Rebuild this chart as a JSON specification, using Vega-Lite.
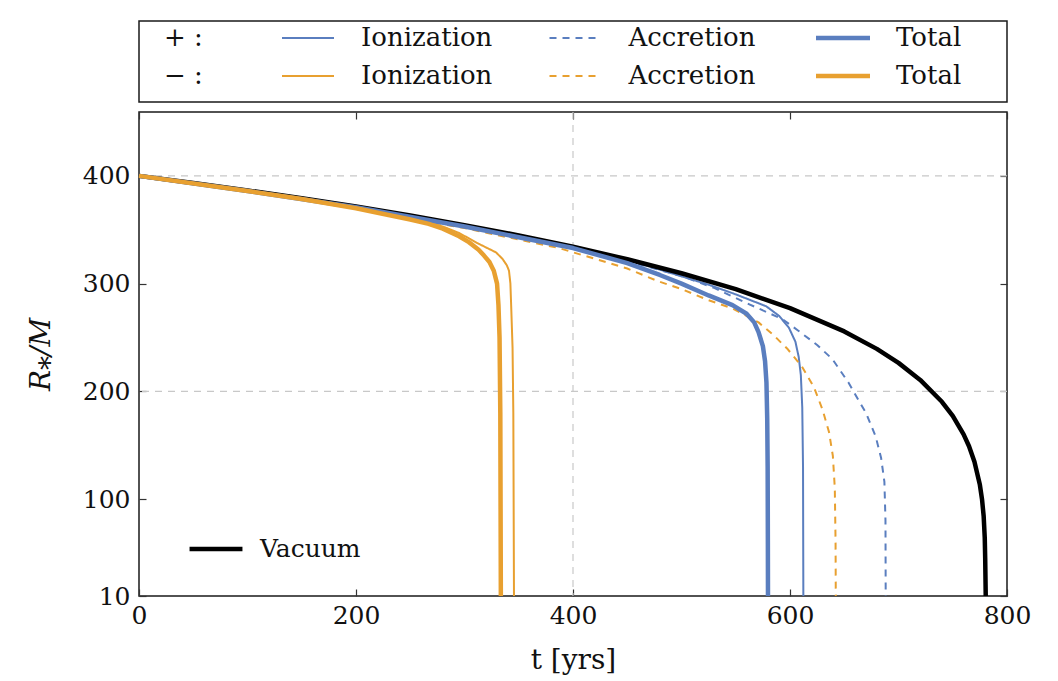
{
  "$schema": "https://vega.github.io/schema/vega-lite/v6.json",
  "autosize": {"type": "pad"},
  "padding": {"left": 26, "top": 20, "right": 45, "bottom": 5},
  "background": "white",
  "spacing": 7,
  "config": {
    "font": "DejaVu Serif",
    "view": {"stroke": "#1a1a1a", "strokeWidth": 1.5},
    "axis": {
      "labelFont": "DejaVu Serif", "labelFontSize": 25, "labelColor": "#111",
      "titleFont": "DejaVu Serif", "titleFontSize": 28, "titleColor": "#111", "titleFontWeight": "normal",
      "domain": false, "tickColor": "#333", "tickSize": -7, "tickWidth": 1.2, "grid": false,
      "labelFlush": false, "labelOverlap": false, "labelBound": false
    }
  },
  "datasets": {
    "legendItems": [
      {"sign": "+", "kind": "Ionization"}, {"sign": "+", "kind": "Accretion"}, {"sign": "+", "kind": "Total"},
      {"sign": "−", "kind": "Ionization"}, {"sign": "−", "kind": "Accretion"}, {"sign": "−", "kind": "Total"}
    ],
    "signs": [
      {"sign": "+", "kind": "Ionization", "label": "+ :"},
      {"sign": "−", "kind": "Ionization", "label": "− :"}
    ],
    "curves": [
      {"sign": "Vacuum", "kind": "Vacuum", "t": 0, "R": 400},
      {"sign": "Vacuum", "kind": "Vacuum", "t": 50, "R": 393.4},
      {"sign": "Vacuum", "kind": "Vacuum", "t": 100, "R": 386.5},
      {"sign": "Vacuum", "kind": "Vacuum", "t": 150, "R": 379.2},
      {"sign": "Vacuum", "kind": "Vacuum", "t": 200, "R": 371.5},
      {"sign": "Vacuum", "kind": "Vacuum", "t": 250, "R": 363.2},
      {"sign": "Vacuum", "kind": "Vacuum", "t": 300, "R": 354.3},
      {"sign": "Vacuum", "kind": "Vacuum", "t": 350, "R": 344.7},
      {"sign": "Vacuum", "kind": "Vacuum", "t": 400, "R": 334.2},
      {"sign": "Vacuum", "kind": "Vacuum", "t": 450, "R": 322.6},
      {"sign": "Vacuum", "kind": "Vacuum", "t": 500, "R": 309.6},
      {"sign": "Vacuum", "kind": "Vacuum", "t": 550, "R": 294.8},
      {"sign": "Vacuum", "kind": "Vacuum", "t": 600, "R": 277.2},
      {"sign": "Vacuum", "kind": "Vacuum", "t": 650, "R": 255.6},
      {"sign": "Vacuum", "kind": "Vacuum", "t": 680, "R": 239.4},
      {"sign": "Vacuum", "kind": "Vacuum", "t": 700, "R": 226.4},
      {"sign": "Vacuum", "kind": "Vacuum", "t": 720, "R": 210.6},
      {"sign": "Vacuum", "kind": "Vacuum", "t": 740, "R": 190.3},
      {"sign": "Vacuum", "kind": "Vacuum", "t": 750, "R": 177.2},
      {"sign": "Vacuum", "kind": "Vacuum", "t": 760, "R": 160.1},
      {"sign": "Vacuum", "kind": "Vacuum", "t": 765, "R": 149},
      {"sign": "Vacuum", "kind": "Vacuum", "t": 770, "R": 134.6},
      {"sign": "Vacuum", "kind": "Vacuum", "t": 775, "R": 113.2},
      {"sign": "Vacuum", "kind": "Vacuum", "t": 777, "R": 99.6},
      {"sign": "Vacuum", "kind": "Vacuum", "t": 778.5, "R": 84},
      {"sign": "Vacuum", "kind": "Vacuum", "t": 779.5, "R": 64},
      {"sign": "Vacuum", "kind": "Vacuum", "t": 779.9, "R": 45},
      {"sign": "Vacuum", "kind": "Vacuum", "t": 780.4, "R": 10},

      {"sign": "+", "kind": "Accretion", "t": 0, "R": 400},
      {"sign": "+", "kind": "Accretion", "t": 100, "R": 386},
      {"sign": "+", "kind": "Accretion", "t": 200, "R": 370.8},
      {"sign": "+", "kind": "Accretion", "t": 300, "R": 353},
      {"sign": "+", "kind": "Accretion", "t": 400, "R": 333},
      {"sign": "+", "kind": "Accretion", "t": 450, "R": 321},
      {"sign": "+", "kind": "Accretion", "t": 500, "R": 307},
      {"sign": "+", "kind": "Accretion", "t": 530, "R": 296},
      {"sign": "+", "kind": "Accretion", "t": 562, "R": 281},
      {"sign": "+", "kind": "Accretion", "t": 593, "R": 267},
      {"sign": "+", "kind": "Accretion", "t": 608, "R": 256},
      {"sign": "+", "kind": "Accretion", "t": 625, "R": 243},
      {"sign": "+", "kind": "Accretion", "t": 639, "R": 230},
      {"sign": "+", "kind": "Accretion", "t": 654, "R": 208},
      {"sign": "+", "kind": "Accretion", "t": 663, "R": 192},
      {"sign": "+", "kind": "Accretion", "t": 670, "R": 180},
      {"sign": "+", "kind": "Accretion", "t": 679, "R": 158},
      {"sign": "+", "kind": "Accretion", "t": 684, "R": 138},
      {"sign": "+", "kind": "Accretion", "t": 687, "R": 116},
      {"sign": "+", "kind": "Accretion", "t": 688, "R": 80},
      {"sign": "+", "kind": "Accretion", "t": 688.2, "R": 10},

      {"sign": "+", "kind": "Ionization", "t": 0, "R": 400},
      {"sign": "+", "kind": "Ionization", "t": 100, "R": 386.3},
      {"sign": "+", "kind": "Ionization", "t": 200, "R": 371.3},
      {"sign": "+", "kind": "Ionization", "t": 300, "R": 354},
      {"sign": "+", "kind": "Ionization", "t": 400, "R": 334},
      {"sign": "+", "kind": "Ionization", "t": 450, "R": 322},
      {"sign": "+", "kind": "Ionization", "t": 480, "R": 313},
      {"sign": "+", "kind": "Ionization", "t": 525, "R": 299},
      {"sign": "+", "kind": "Ionization", "t": 550, "R": 290},
      {"sign": "+", "kind": "Ionization", "t": 578, "R": 279},
      {"sign": "+", "kind": "Ionization", "t": 590, "R": 270},
      {"sign": "+", "kind": "Ionization", "t": 599, "R": 259},
      {"sign": "+", "kind": "Ionization", "t": 605, "R": 246},
      {"sign": "+", "kind": "Ionization", "t": 608, "R": 232},
      {"sign": "+", "kind": "Ionization", "t": 610, "R": 215},
      {"sign": "+", "kind": "Ionization", "t": 611.3, "R": 185},
      {"sign": "+", "kind": "Ionization", "t": 612, "R": 130},
      {"sign": "+", "kind": "Ionization", "t": 612.3, "R": 10},

      {"sign": "+", "kind": "Total", "t": 0, "R": 400},
      {"sign": "+", "kind": "Total", "t": 100, "R": 386},
      {"sign": "+", "kind": "Total", "t": 200, "R": 370.8},
      {"sign": "+", "kind": "Total", "t": 300, "R": 353},
      {"sign": "+", "kind": "Total", "t": 400, "R": 333},
      {"sign": "+", "kind": "Total", "t": 450, "R": 319},
      {"sign": "+", "kind": "Total", "t": 480, "R": 308},
      {"sign": "+", "kind": "Total", "t": 500, "R": 300},
      {"sign": "+", "kind": "Total", "t": 525, "R": 289},
      {"sign": "+", "kind": "Total", "t": 547, "R": 280},
      {"sign": "+", "kind": "Total", "t": 560, "R": 272},
      {"sign": "+", "kind": "Total", "t": 567, "R": 264},
      {"sign": "+", "kind": "Total", "t": 571, "R": 255},
      {"sign": "+", "kind": "Total", "t": 575, "R": 242},
      {"sign": "+", "kind": "Total", "t": 577, "R": 228},
      {"sign": "+", "kind": "Total", "t": 578.3, "R": 208},
      {"sign": "+", "kind": "Total", "t": 579, "R": 175},
      {"sign": "+", "kind": "Total", "t": 579.4, "R": 130},
      {"sign": "+", "kind": "Total", "t": 579.6, "R": 60},
      {"sign": "+", "kind": "Total", "t": 579.7, "R": 10},

      {"sign": "−", "kind": "Accretion", "t": 0, "R": 400},
      {"sign": "−", "kind": "Accretion", "t": 100, "R": 385.7},
      {"sign": "−", "kind": "Accretion", "t": 200, "R": 370},
      {"sign": "−", "kind": "Accretion", "t": 300, "R": 351.5},
      {"sign": "−", "kind": "Accretion", "t": 387, "R": 333},
      {"sign": "−", "kind": "Accretion", "t": 450, "R": 314},
      {"sign": "−", "kind": "Accretion", "t": 479, "R": 302},
      {"sign": "−", "kind": "Accretion", "t": 500, "R": 295},
      {"sign": "−", "kind": "Accretion", "t": 525, "R": 284.5},
      {"sign": "−", "kind": "Accretion", "t": 547, "R": 277},
      {"sign": "−", "kind": "Accretion", "t": 571, "R": 264},
      {"sign": "−", "kind": "Accretion", "t": 585, "R": 252},
      {"sign": "−", "kind": "Accretion", "t": 598, "R": 239},
      {"sign": "−", "kind": "Accretion", "t": 611, "R": 223},
      {"sign": "−", "kind": "Accretion", "t": 622, "R": 204},
      {"sign": "−", "kind": "Accretion", "t": 630, "R": 183},
      {"sign": "−", "kind": "Accretion", "t": 636, "R": 162},
      {"sign": "−", "kind": "Accretion", "t": 639.5, "R": 140},
      {"sign": "−", "kind": "Accretion", "t": 641.3, "R": 110},
      {"sign": "−", "kind": "Accretion", "t": 642, "R": 60},
      {"sign": "−", "kind": "Accretion", "t": 642.2, "R": 10},

      {"sign": "−", "kind": "Ionization", "t": 0, "R": 400},
      {"sign": "−", "kind": "Ionization", "t": 100, "R": 386},
      {"sign": "−", "kind": "Ionization", "t": 200, "R": 370.3},
      {"sign": "−", "kind": "Ionization", "t": 221, "R": 366},
      {"sign": "−", "kind": "Ionization", "t": 250, "R": 360},
      {"sign": "−", "kind": "Ionization", "t": 267, "R": 357},
      {"sign": "−", "kind": "Ionization", "t": 280, "R": 353},
      {"sign": "−", "kind": "Ionization", "t": 295, "R": 347},
      {"sign": "−", "kind": "Ionization", "t": 313, "R": 337},
      {"sign": "−", "kind": "Ionization", "t": 321, "R": 333},
      {"sign": "−", "kind": "Ionization", "t": 329, "R": 329},
      {"sign": "−", "kind": "Ionization", "t": 335, "R": 323},
      {"sign": "−", "kind": "Ionization", "t": 339, "R": 317},
      {"sign": "−", "kind": "Ionization", "t": 341, "R": 312},
      {"sign": "−", "kind": "Ionization", "t": 342.3, "R": 300},
      {"sign": "−", "kind": "Ionization", "t": 343, "R": 280},
      {"sign": "−", "kind": "Ionization", "t": 344.3, "R": 240},
      {"sign": "−", "kind": "Ionization", "t": 345, "R": 180},
      {"sign": "−", "kind": "Ionization", "t": 345.6, "R": 10},

      {"sign": "−", "kind": "Total", "t": 0, "R": 400},
      {"sign": "−", "kind": "Total", "t": 100, "R": 386},
      {"sign": "−", "kind": "Total", "t": 150, "R": 378.5},
      {"sign": "−", "kind": "Total", "t": 200, "R": 370},
      {"sign": "−", "kind": "Total", "t": 221, "R": 365.5},
      {"sign": "−", "kind": "Total", "t": 250, "R": 359.5},
      {"sign": "−", "kind": "Total", "t": 267, "R": 355.5},
      {"sign": "−", "kind": "Total", "t": 280, "R": 351},
      {"sign": "−", "kind": "Total", "t": 295, "R": 344},
      {"sign": "−", "kind": "Total", "t": 304, "R": 338.5},
      {"sign": "−", "kind": "Total", "t": 313, "R": 331.5},
      {"sign": "−", "kind": "Total", "t": 318, "R": 326},
      {"sign": "−", "kind": "Total", "t": 323, "R": 320},
      {"sign": "−", "kind": "Total", "t": 327, "R": 312},
      {"sign": "−", "kind": "Total", "t": 330, "R": 300},
      {"sign": "−", "kind": "Total", "t": 331.3, "R": 280},
      {"sign": "−", "kind": "Total", "t": 332.3, "R": 250},
      {"sign": "−", "kind": "Total", "t": 333, "R": 180},
      {"sign": "−", "kind": "Total", "t": 333.5, "R": 10}
    ]
  },
  "vconcat": [
    {
      "width": 868,
      "height": 81,
      "encoding": {
        "x": {"field": "kind", "type": "nominal", "axis": null,
              "scale": {"type": "point", "domain": ["Ionization", "Accretion", "Total"], "range": [169, 704], "padding": 0}},
        "y": {"field": "sign", "type": "nominal", "axis": null,
              "scale": {"type": "point", "domain": ["+", "−"], "range": [17, 55], "padding": 0}}
      },
      "layer": [
        {
          "data": {"name": "legendItems"},
          "transform": [{"filter": "datum.kind !== 'Total'"}],
          "mark": {"type": "rule", "xOffset": -26, "x2Offset": 26, "strokeWidth": 2},
          "encoding": {
            "x2": {"field": "kind"},
            "color": {"field": "sign", "type": "nominal", "legend": null,
                      "scale": {"domain": ["+", "−", "Vacuum"], "range": ["#5a7ebf", "#e8a030", "#000000"]}},
            "strokeDash": {"field": "kind", "type": "nominal", "legend": null,
                           "scale": {"domain": ["Ionization", "Accretion", "Total", "Vacuum"], "range": [[1, 0], [7, 6], [1, 0], [1, 0]]}}
          }
        },
        {
          "data": {"name": "legendItems"},
          "transform": [{"filter": "datum.kind === 'Total'"}],
          "mark": {"type": "rule", "xOffset": -27, "x2Offset": 27, "strokeWidth": 4.5},
          "encoding": {
            "x2": {"field": "kind"},
            "color": {"field": "sign", "type": "nominal", "legend": null}
          }
        },
        {
          "data": {"name": "legendItems"},
          "mark": {"type": "text", "align": "left", "baseline": "middle", "dx": 53, "fontSize": 26, "font": "DejaVu Serif", "color": "#111"},
          "encoding": {"text": {"field": "kind"}}
        },
        {
          "data": {"name": "signs"},
          "mark": {"type": "text", "align": "left", "baseline": "middle", "dx": -144, "fontSize": 26, "font": "DejaVu Serif", "color": "#111"},
          "encoding": {"text": {"field": "label"}}
        }
      ]
    },
    {
      "width": 868,
      "height": 484,
      "layer": [
        {
          "data": {"values": [{"g": 400}]},
          "mark": {"type": "rule", "color": "#c8c8c8", "strokeWidth": 1.2, "strokeDash": [7, 6]},
          "encoding": {
            "x": {"field": "g", "type": "quantitative", "axis": null, "scale": {"domain": [0, 800], "nice": false}}
          }
        },
        {
          "data": {"values": [{"g": 200}, {"g": 400}]},
          "mark": {"type": "rule", "color": "#c8c8c8", "strokeWidth": 1.2, "strokeDash": [7, 6]},
          "encoding": {
            "y": {"field": "g", "type": "quantitative", "axis": null, "scale": {"domain": [10, 459.3], "nice": false, "zero": false}}
          }
        },
        {
          "data": {"name": "curves"},
          "transform": [{"filter": "datum.kind === 'Ionization' || datum.kind === 'Accretion'"}],
          "mark": {"type": "line", "strokeCap": "butt", "strokeJoin": "round", "strokeWidth": 2},
          "encoding": {
            "x": {"field": "t", "type": "quantitative", "title": "t [yrs]",
                  "scale": {"domain": [0, 800], "nice": false},
                  "axis": {"orient": "bottom", "values": [0, 200, 400, 600, 800], "labelPadding": 14, "titlePadding": 18}},
            "y": {"field": "R", "type": "quantitative", "title": "R⁎/M",
                  "scale": {"domain": [10, 459.3], "nice": false, "zero": false},
                  "axis": {"orient": "left", "values": [10, 100, 200, 300, 400], "labelPadding": 16, "titlePadding": 27, "titleFontStyle": "italic"}},
            "color": {"field": "sign", "type": "nominal",
                      "scale": {"domain": ["+", "−", "Vacuum"], "range": ["#5a7ebf", "#e8a030", "#000000"]},
                      "legend": {"values": ["Vacuum"], "orient": "none", "legendX": 48, "legendY": 408, "title": null,
                                 "symbolType": "stroke", "symbolStrokeWidth": 4.5, "symbolSize": 2800, "symbolDash": [1, 0],
                                 "labelFont": "DejaVu Serif", "labelFontSize": 25, "labelColor": "#111", "labelOffset": 15, "padding": 0}},
            "strokeDash": {"field": "kind", "type": "nominal", "legend": null,
                           "scale": {"domain": ["Ionization", "Accretion", "Total", "Vacuum"], "range": [[1, 0], [7, 6], [1, 0], [1, 0]]}}
          }
        },
        {
          "data": {"name": "curves"},
          "transform": [{"filter": "datum.kind === 'Total' || datum.kind === 'Vacuum'"}],
          "mark": {"type": "line", "strokeCap": "butt", "strokeJoin": "round", "strokeWidth": 4.5},
          "encoding": {
            "x": {"field": "t", "type": "quantitative", "axis": null},
            "y": {"field": "R", "type": "quantitative", "axis": null},
            "color": {"field": "sign", "type": "nominal"}
          }
        },
        {
          "data": {"name": "curves"},
          "mark": {"type": "point", "opacity": 0},
          "encoding": {
            "x": {"field": "t", "type": "quantitative",
                  "axis": {"orient": "top", "values": [0, 200, 400, 600, 800], "labels": false, "title": null}},
            "y": {"field": "R", "type": "quantitative",
                  "axis": {"orient": "right", "values": [10, 100, 200, 300, 400], "labels": false, "title": null}}
          }
        }
      ],
      "resolve": {"axis": {"x": "independent", "y": "independent"}}
    }
  ],
  "resolve": {
    "scale": {"x": "independent", "y": "independent", "color": "independent", "strokeDash": "independent"}
  }
}
